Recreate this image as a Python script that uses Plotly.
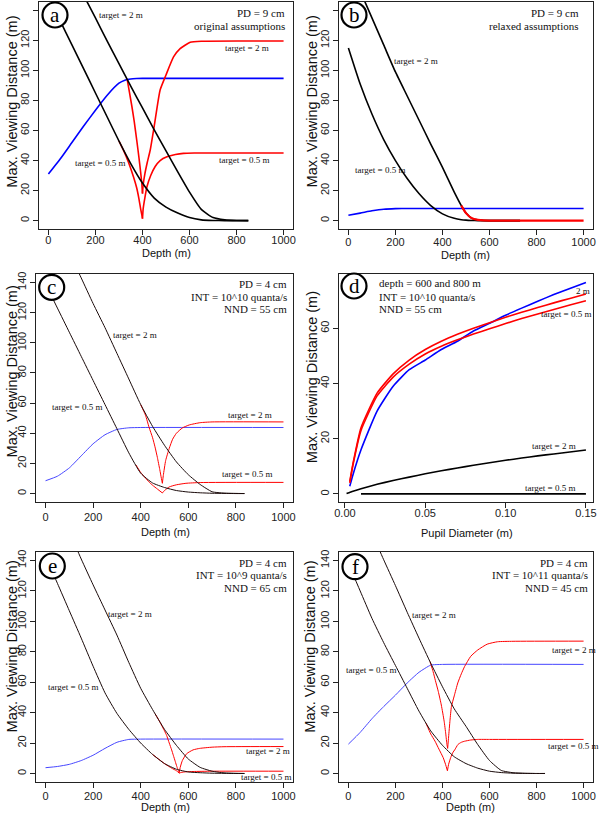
import plotly.graph_objects as go

W, H = 600, 813

# ---------------- DATA ----------------
# Panel a (PD = 9 cm, original assumptions)
a_depth_black = [0, 50, 100, 150, 200, 250, 300, 350, 400, 450, 500, 550, 600, 650, 700, 750, 800, 850]
a_black_05 = [150, 133, 117, 101, 85, 69, 53, 38, 25, 15, 9, 5, 2, 0.5, 0.1, 0, 0, 0]
a_black_2 = [195, 180, 165, 150, 135, 119.5, 104.5, 89.5, 75, 60.5, 46.5, 32.5, 19, 7.5, 2, 0.5, 0.1, 0]
a_red2_depth = [335, 345, 355, 365, 376, 385, 393, 397, 400, 403, 410, 420, 433, 450, 475, 500, 532, 560, 603, 650, 1000]
a_red2 = [94, 85, 76, 66, 53, 42, 31, 25, 18, 24, 31, 38.5, 47, 63, 87, 97, 109, 114.5, 118.8, 119.5, 119.6]
a_red05_depth = [300, 320, 340, 362, 375, 385, 392, 397, 400, 403, 410, 419, 435, 454, 475, 504, 540, 574, 620, 1000]
a_red05 = [53, 46.5, 39, 29, 22, 14.5, 8, 4, 1.3, 8, 15, 22.5, 30, 36, 40, 42.5, 44, 44.8, 45, 45]
a_blue_depth = [0, 50, 100, 150, 200, 250, 300, 325, 350, 375, 400, 450, 1000]
a_blue = [31, 41, 52, 63, 73.5, 83.5, 91.5, 93.5, 94.3, 94.6, 94.7, 94.7, 94.7]

# Panel b (PD = 9 cm, relaxed assumptions)
b_depth_black = [0, 50, 100, 150, 200, 250, 300, 350, 400, 450, 480, 500, 525, 550, 575, 600, 650, 730]
b_black_2 = [171, 153, 135, 117, 99, 83, 67, 51, 35.5, 19, 10, 5, 1.5, 0.5, 0.1, 0, 0, 0]
b_black_05 = [115, 91, 71, 54, 40, 28, 18, 10, 4.5, 1.5, 0.6, 0.3, 0.1, 0, 0, 0, 0, 0]
b_red_depth = [480, 500, 525, 550, 575, 600, 650, 1000]
b_red = [10, 5, 1.5, 0.5, 0.1, 0, 0, 0]
b_blue_depth = [0, 50, 100, 150, 200, 250, 1000]
b_blue = [3.6, 5, 6.5, 7.6, 8, 8.1, 8.1]

# Panel c (PD = 4 cm, INT = 10^10, NND = 55 cm)
c_depth_black = [0, 50, 100, 150, 200, 250, 300, 350, 400, 450, 500, 550, 600, 650, 700, 750, 800, 836]
c_black_2 = [193, 176, 159.5, 143, 126, 110, 93, 76, 59, 44.5, 32, 21, 12.5, 6, 1.2, 0.3, 0.1, 0]
c_black_05 = [139, 123, 107, 91, 75, 59, 43, 27, 13.5, 7, 4, 2, 1, 0.5, 0.2, 0.1, 0, 0]
c_red2_depth = [400, 420, 435, 450, 460, 470, 480, 487, 491, 495, 505, 520, 534, 550, 575, 604, 650, 700, 1000]
c_red2 = [59, 52, 44, 37, 31, 24, 16, 10, 6.8, 12, 22, 30, 36, 40, 43.5, 45.5, 47, 47.5, 47.5]
c_red05_depth = [380, 400, 420, 435, 450, 470, 491, 500, 520, 550, 590, 650, 1000]
c_red05 = [19, 14, 10.3, 7.7, 5.5, 3, 0.4, 2, 4.4, 5.8, 6.8, 7.3, 7.4]
c_blue_depth = [0, 50, 100, 150, 200, 250, 300, 350, 400, 1000]
c_blue = [8.5, 11.5, 17, 25, 33, 39, 42.5, 43.6, 43.8, 43.8]

# Panel d (pupil diameter, depth = 600 and 800 m)
d_pd = [0.003, 0.005, 0.01, 0.02, 0.03, 0.04, 0.05, 0.06, 0.07, 0.08, 0.09, 0.10, 0.11, 0.12, 0.13, 0.14, 0.15]
d_blue = [2.8, 7, 16, 30, 39, 45, 48.5, 52.3, 55.3, 59, 61.8, 64.7, 67.3, 69.8, 72.2, 74.4, 76.6]
d_red_upper = [4.5, 11, 24, 36.5, 43.5, 48.5, 52.3, 55.3, 57.8, 60, 62, 64, 65.8, 67.5, 69.2, 70.8, 72.4]
d_red_lower = [4, 10.5, 23, 35.5, 42.3, 47, 50.7, 53.5, 55.8, 57.9, 59.8, 61.7, 63.5, 65.2, 66.8, 68.4, 70]
d_pd_black2 = [0.001, 0.005, 0.01, 0.02, 0.03, 0.04, 0.05, 0.06, 0.07, 0.08, 0.09, 0.10, 0.11, 0.12, 0.13, 0.14, 0.15]
d_black_2 = [0.2, 1.0, 1.9, 3.5, 4.9, 6.1, 7.3, 8.4, 9.4, 10.4, 11.3, 12.2, 13.0, 13.8, 14.5, 15.2, 15.9]
d_pd_black05 = [0.01, 0.05, 0.10, 0.15]
d_black_05 = [0.05, 0.05, 0.05, 0.05]

# Panel e (PD = 4 cm, INT = 10^9, NND = 65 cm)
e_depth_black = [0, 50, 100, 150, 200, 250, 300, 350, 400, 450, 500, 550, 600, 650, 700, 750, 800, 836]
e_black_2 = [195, 177, 159, 141, 124, 107.5, 91, 73, 56, 42, 29, 18.5, 9.5, 4, 1.5, 0.4, 0.1, 0]
e_black_05 = [143, 125, 107, 89, 70.5, 53, 39.5, 29, 20, 12.5, 6.5, 2.8, 1, 0.5, 0.2, 0.1, 0, 0]
e_red2_depth = [460, 480, 500, 509, 520, 530, 537, 545, 552, 558, 562, 566, 575, 593, 620, 648, 700, 750, 1000]
e_red2 = [39.4, 34, 28, 25, 20, 15.5, 12, 8, 4.5, 2, 0.5, 4, 8.5, 13, 15.5, 16.5, 17.3, 17.6, 17.7]
e_red05_depth = [450, 500, 530, 550, 562, 570, 590, 620, 700, 1000]
e_red05 = [12.5, 6.5, 3.5, 1.8, 0.2, 0.7, 1.1, 1.3, 1.5, 1.5]
e_blue_depth = [0, 50, 100, 150, 200, 250, 300, 350, 400, 1000]
e_blue = [3.8, 4.6, 6, 8.5, 12, 16.5, 20.5, 22.4, 22.6, 22.6]

# Panel f (PD = 4 cm, INT = 10^11, NND = 45 cm)
f_depth_black = [0, 50, 100, 150, 200, 250, 300, 350, 400, 450, 500, 550, 600, 650, 700, 750, 800, 836]
f_black_2 = [193, 175, 158, 140.5, 123.5, 106, 89, 72.5, 57, 42.5, 31, 19, 8.5, 2, 0.5, 0.1, 0, 0]
f_black_05 = [138, 120, 102, 86, 71, 56, 41, 28, 18.5, 11, 6.5, 3.5, 1.5, 0.6, 0.2, 0.1, 0, 0]
f_red2_depth = [347, 360, 370, 382, 395, 407, 414, 419, 422, 426, 432, 438, 450, 465, 480, 494, 520, 550, 590, 634, 700, 1000]
f_red2 = [73.6, 67, 61, 54, 45, 34.4, 26, 19, 16.5, 24, 35, 44, 51, 59.5, 65.5, 70.3, 77, 81.2, 85, 86.6, 86.9, 87]
f_red05_depth = [330, 350, 368, 385, 403, 413, 421, 426, 435, 445, 452, 466, 480, 494, 520, 550, 600, 1000]
f_red05 = [33, 26, 21.3, 16, 10.4, 6, 1.8, 6, 10.5, 14, 15.5, 19.1, 20.5, 21.2, 22, 22.4, 22.4, 22.4]
f_blue_depth = [0, 50, 100, 150, 200, 250, 300, 350, 400, 1000]
f_blue = [19.3, 27, 36, 44, 51.5, 59.5, 66.5, 71.2, 71.7, 71.7]

depth_ticks = [0, 200, 400, 600, 800, 1000]
dist_ticks = [0, 20, 40, 60, 80, 100, 120, 140]
pd_ticks = [0.0, 0.05, 0.10, 0.15]
pd_ticktext = ["0.00", "0.05", "0.10", "0.15"]
dist_ticks_d = [0, 20, 40, 60]

# ---------------- LAYOUT HELPERS ----------------
SANS = "Liberation Sans, Arial, sans-serif"
SERIF = "Liberation Serif, Times New Roman, serif"
RED, BLUE, BLACK = "#ff0000", "#0000ff", "#000000"


def px(x):
    return x / W


def py(y):
    return 1 - y / H


# panel boxes in pixels: (left, right, top, bottom)
boxes = {
    1: (39, 293, 2, 229),
    2: (339, 593, 2, 229),
    3: (36, 293, 274, 502),
    4: (339, 593, 274, 502),
    5: (36, 293, 552, 782),
    6: (339, 593, 552, 782),
}
label_standoff = {1: -4, 2: -2, 3: 0, 4: -4, 5: -1, 6: -1}

fig = go.Figure()


def add_line(panel, x, y, color, width, smooth=True):
    line = dict(color=color, width=width)
    if smooth:
        line.update(shape="spline", smoothing=0.5)
    fig.add_trace(go.Scatter(
        x=x, y=y, mode="lines", line=line,
        xaxis="x" if panel == 1 else f"x{panel}", yaxis="y" if panel == 1 else f"y{panel}",
        showlegend=False, hoverinfo="skip"))


def add_cusp(panel, x, y, color, width):
    k = y.index(min(y))
    add_line(panel, x[:k + 1], y[:k + 1], color, width)
    add_line(panel, x[k:], y[k:], color, width)


# panel a
add_line(1, a_blue_depth, a_blue, BLUE, 1.6)
add_cusp(1, a_red2_depth, a_red2, RED, 1.6)
add_cusp(1, a_red05_depth, a_red05, RED, 1.6)
add_line(1, a_depth_black, a_black_2, BLACK, 1.6)
add_line(1, a_depth_black, a_black_05, BLACK, 1.6)
# panel b
add_line(2, b_blue_depth, b_blue, BLUE, 1.6)
add_line(2, b_depth_black, b_black_2, BLACK, 1.6)
add_line(2, b_depth_black, b_black_05, BLACK, 1.6)
add_line(2, b_red_depth, b_red, RED, 2.2)
# panel c
add_line(3, c_blue_depth, c_blue, "#4646ff", 1)
add_cusp(3, c_red2_depth, c_red2, RED, 1)
add_cusp(3, c_red05_depth, c_red05, RED, 1)
add_line(3, c_depth_black, c_black_2, "#1a0a0a", 1)
add_line(3, c_depth_black, c_black_05, "#1a0a0a", 1)
# panel d
add_line(4, d_pd, d_blue, BLUE, 1.6)
add_line(4, d_pd, d_red_upper, RED, 1.6)
add_line(4, d_pd, d_red_lower, RED, 1.6)
add_line(4, d_pd_black2, d_black_2, BLACK, 1.6)
add_line(4, d_pd_black05, d_black_05, BLACK, 1.6)
# panel e
add_line(5, e_blue_depth, e_blue, "#4646ff", 1)
add_cusp(5, e_red2_depth, e_red2, RED, 1)
add_cusp(5, e_red05_depth, e_red05, RED, 1)
add_line(5, e_depth_black, e_black_2, "#1a0a0a", 1)
add_line(5, e_depth_black, e_black_05, "#1a0a0a", 1)
# panel f
add_line(6, f_blue_depth, f_blue, "#4646ff", 1)
add_cusp(6, f_red2_depth, f_red2, RED, 1)
add_cusp(6, f_red05_depth, f_red05, RED, 1)
add_line(6, f_depth_black, f_black_2, "#1a0a0a", 1)
add_line(6, f_depth_black, f_black_05, "#1a0a0a", 1)

layout = dict(
    width=W, height=H, margin=dict(l=0, r=0, t=0, b=0),
    paper_bgcolor="white", plot_bgcolor="white", showlegend=False,
)

for p, (l, r, t, b) in boxes.items():
    xk = "xaxis" if p == 1 else f"xaxis{p}"
    yk = "yaxis" if p == 1 else f"yaxis{p}"
    xa = "x" if p == 1 else f"x{p}"
    ya = "y" if p == 1 else f"y{p}"
    common = dict(ticks="outside", ticklen=5, tickwidth=1, tickcolor="#222",
                  showline=True, linecolor="#222", linewidth=1, mirror=True,
                  showgrid=False, zeroline=False, automargin=False,
                  tickfont=dict(family=SANS, size=11, color="#222"))
    if p == 4:
        xaxis = dict(domain=[px(l), px(r)], range=[-0.0037, 0.1544], tickvals=pd_ticks,
                     ticktext=pd_ticktext, anchor=ya, ticklabelstandoff=label_standoff[p], **common)
        yaxis = dict(domain=[py(b), py(t)], range=[-2.9, 79.65], tickvals=dist_ticks_d,
                     anchor=xa, tickangle=-90, **common)
    else:
        xaxis = dict(domain=[px(l), px(r)], range=[-40, 1040], tickvals=depth_ticks,
                     anchor=ya, ticklabelstandoff=label_standoff[p], **common)
        yaxis = dict(domain=[py(b), py(t)], range=[-5.6, 145.6], tickvals=dist_ticks,
                     anchor=xa, tickangle=-90, **common)
    layout[xk] = xaxis
    layout[yk] = yaxis

fig.update_layout(**layout)

ann = []


def txt(s, x, y, anchor="center", size=9, font=SERIF, angle=0):
    ann.append(dict(text=s, x=px(x), y=py(y), xref="paper", yref="paper",
                    xanchor=anchor, yanchor="middle", showarrow=False, textangle=angle,
                    font=dict(family=font, size=size, color="#111")))


# panel a
txt("target = 2 m", 121, 15)
txt("PD = 9 cm", 287, 13, "right", 11)
txt("original assumptions", 287, 26, "right", 11)
txt("target = 2 m", 247, 48)
txt("target = 0.5 m", 99.5, 163)
txt("target = 0.5 m", 243.5, 160)
# panel b
txt("PD = 9 cm", 581, 13, "right", 11)
txt("relaxed assumptions", 581, 26, "right", 11)
txt("target = 2 m", 416, 61)
txt("target = 0.5 m", 380, 170)
# panel c
txt("PD = 4 cm", 289, 284, "right", 11)
txt("INT = 10^10 quanta/s", 289, 296.7, "right", 11)
txt("NND = 55 cm", 289, 309.3, "right", 11)
txt("target = 2 m", 134.5, 335)
txt("target = 0.5 m", 77, 406.7)
txt("target = 2 m", 250, 415)
txt("target = 0.5 m", 246.5, 474)
# panel d
txt("depth = 600 and 800 m", 377.3, 283.3, "left", 11)
txt("INT = 10^10 quanta/s", 377.3, 296.7, "left", 11)
txt("NND = 55 cm", 377.3, 309.3, "left", 11)
txt("2 m", 592, 290.7, "right")
txt("target = 0.5 m", 593, 314, "right")
txt("target = 2 m", 554, 445.7)
txt("target = 0.5 m", 549.5, 488)
# panel e
txt("PD = 4 cm", 288.7, 562.7, "right", 11)
txt("INT = 10^9 quanta/s", 288.7, 575.3, "right", 11)
txt("NND = 65 cm", 288.7, 588.3, "right", 11)
txt("target = 2 m", 129.5, 614)
txt("target = 0.5 m", 73, 686.7)
txt("target = 2 m", 268, 751)
txt("target = 0.5 m", 266, 777.3)
# panel f
txt("PD = 4 cm", 590, 562.7, "right", 11)
txt("INT = 10^11 quanta/s", 590, 575.3, "right", 11)
txt("NND = 45 cm", 590, 588.3, "right", 11)
txt("target = 2 m", 434, 615)
txt("target = 0.5 m", 371, 670)
txt("target = 2 m", 573.5, 650)
txt("target = 0.5 m", 572.5, 745.7)

# axis titles
for (s, x, y) in [("Depth (m)", 166, 252.5), ("Depth (m)", 466, 255), ("Depth (m)", 165, 531.7),
                  ("Pupil Diameter (m)", 467.3, 533.3), ("Depth (m)", 165.7, 807),
                  ("Depth (m)", 470, 807)]:
    txt(s, x, y, "center", 11, SANS)
for (x, y) in [(12, 101.7), (311.7, 101.7), (11.7, 371.7), (311.7, 377.5), (11.7, 646.7), (310, 646.7)]:
    txt("Max. Viewing Distance (m)", x, y, "center", 14.5, SANS, -90)

# panel letters in circles
shapes = []
R = 12.5
for letter, cx, cy in [("a", 55, 15), ("b", 354, 15), ("c", 51.7, 287.3), ("d", 354, 286),
                       ("e", 52.3, 566), ("f", 355, 566.7)]:
    shapes.append(dict(type="circle", xref="paper", yref="paper",
                       x0=px(cx - R), x1=px(cx + R), y0=py(cy + R), y1=py(cy - R),
                       line=dict(color="black", width=2.2), fillcolor="white", layer="above"))
    ann.append(dict(text=letter, x=px(cx), y=py(cy), xref="paper", yref="paper",
                    xanchor="center", yanchor="middle", showarrow=False,
                    font=dict(family=SERIF, size=21, color="black")))

fig.update_layout(annotations=ann, shapes=shapes)
fig.write_html("out.html", config={"displayModeBar": False},
               post_script="document.body.style.margin='0px';")
